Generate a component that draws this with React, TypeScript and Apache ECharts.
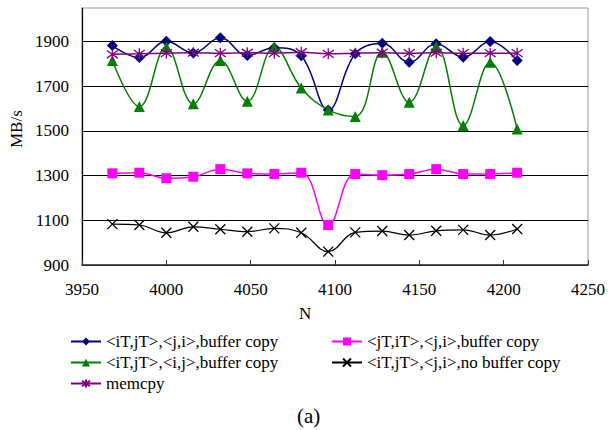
import React, { useEffect, useRef } from "react";
import * as echarts from "echarts";

const nValues = [3968, 3984, 4000, 4016, 4032, 4048, 4064, 4080, 4096, 4112, 4128, 4144, 4160, 4176, 4192, 4208];
const blueVals = [1882, 1828, 1901, 1849, 1917, 1838, 1872, 1836, 1594, 1845, 1892, 1807, 1890, 1830, 1900, 1815];
const pinkVals = [1310, 1313, 1288, 1295, 1329, 1310, 1307, 1313, 1079, 1307, 1302, 1307, 1329, 1307, 1307, 1313];
const greenVals = [1815, 1609, 1875, 1621, 1815, 1633, 1875, 1692, 1594, 1564, 1852, 1628, 1878, 1524, 1807, 1509];
const blackVals = [1083, 1079, 1044, 1071, 1060, 1049, 1064, 1044, 960, 1046, 1052, 1034, 1053, 1057, 1034, 1061];
const memVals = [1843, 1845, 1848, 1850, 1848, 1850, 1848, 1852, 1845, 1848, 1850, 1848, 1850, 1848, 1848, 1848];

const seriesNames = [
  "<iT,jT>,<j,i>,buffer copy",
  "<jT,iT>,<j,i>,buffer copy",
  "<iT,jT>,<i,j>,buffer copy",
  "<iT,jT>,<j,i>,no buffer copy",
  "memcpy",
];

const FONT = "'Liberation Serif', 'Times New Roman', serif";

const toPairs = (vals: number[]) => nValues.map((n, i) => [n, vals[i]]);

export default function App() {
  const ref = useRef<HTMLDivElement>(null);
  useEffect(() => {
    if (!ref.current) return;
    const chart = echarts.init(ref.current, null, { renderer: "svg" });
    const crossPath = "path://M0,0L10,10M10,0L0,10";
    const starPath = "path://M5,0L5,10M0,1.5L10,8.5M10,1.5L0,8.5";
    const mk = (
      name: string,
      vals: number[],
      color: string,
      symbol: string,
      size: number,
      width: number,
      stroke = false
    ) => ({
      name,
      type: "line",
      data: toPairs(vals),
      smooth: 0.4,
      symbol,
      symbolSize: size,
      showAllSymbol: true,
      lineStyle: { color, width },
      itemStyle: stroke
        ? { color: "rgba(0,0,0,0)", borderColor: color, borderWidth: 1.3 }
        : { color, borderWidth: 0 },
      emphasis: { disabled: true },
    });
    chart.setOption({
      animation: false,
      textStyle: { fontFamily: FONT },
      grid: {
        left: 82,
        right: 16,
        top: 8,
        bottom: 165,
        show: true,
        borderColor: "#999",
        borderWidth: 1,
      },
      xAxis: {
        type: "value",
        min: 3950,
        max: 4250,
        interval: 50,
        axisLine: { show: true, lineStyle: { color: "#333", width: 1.5 } },
        axisTick: { show: true, inside: true, length: 5, lineStyle: { color: "#333" } },
        axisLabel: {
          fontFamily: FONT,
          fontSize: 17,
          color: "#000",
          margin: 16,
          formatter: (v: number) => String(v),
        },
        splitLine: { show: false },
      },
      yAxis: {
        type: "value",
        min: 900,
        max: 2050,
        interval: 200,
        axisLine: { show: true, lineStyle: { color: "#000", width: 1.2 } },
        axisTick: { show: false },
        axisLabel: {
          fontFamily: FONT,
          fontSize: 17,
          color: "#000",
          margin: 13,
          showMaxLabel: false,
          formatter: (v: number) => String(v),
        },
        splitLine: {
          show: true,
          showMaxLine: false,
          lineStyle: { color: "#000", width: 1 },
        },
      },
      legend: [
        {
          left: 65,
          top: 326,
          orient: "vertical",
          itemWidth: 30,
          itemHeight: 10,
          itemGap: 0,
          data: [seriesNames[0], seriesNames[2], seriesNames[4]],
          textStyle: { fontFamily: FONT, fontSize: 17, color: "#000", lineHeight: 21 },
          selectedMode: false,
        },
        {
          left: 326,
          top: 326,
          orient: "vertical",
          itemWidth: 30,
          itemHeight: 10,
          itemGap: 0,
          data: [seriesNames[1], seriesNames[3]],
          textStyle: { fontFamily: FONT, fontSize: 17, color: "#000", lineHeight: 21 },
          selectedMode: false,
        },
      ],
      graphic: [
        {
          type: "text",
          left: 299,
          top: 305,
          style: { text: "N", fontFamily: FONT, fontSize: 17, fill: "#000" },
        },
        {
          type: "text",
          x: 8,
          y: 148,
          rotation: Math.PI / 2,
          style: { text: "MB/s", fontFamily: FONT, fontSize: 17, fill: "#000" },
        },
        {
          type: "text",
          left: 297,
          top: 405,
          style: { text: "(a)", fontFamily: FONT, fontSize: 21, fill: "#000" },
        },
      ],
      series: [
        mk(seriesNames[0], blueVals, "#000080", "diamond", 11, 1.5),
        mk(seriesNames[1], pinkVals, "#FF00FF", "rect", 10, 1.5),
        mk(seriesNames[2], greenVals, "#008000", "triangle", 11, 1.5),
        mk(seriesNames[3], blackVals, "#000000", crossPath, 10, 1.2, true),
        mk(seriesNames[4], memVals, "#800080", starPath, 11, 1.5, true),
      ],
    });
    return () => chart.dispose();
  }, []);
  return (
    <div
      ref={ref}
      style={{ position: "fixed", left: 0, top: 0, width: 608, height: 430, background: "#fff" }}
    />
  );
}
